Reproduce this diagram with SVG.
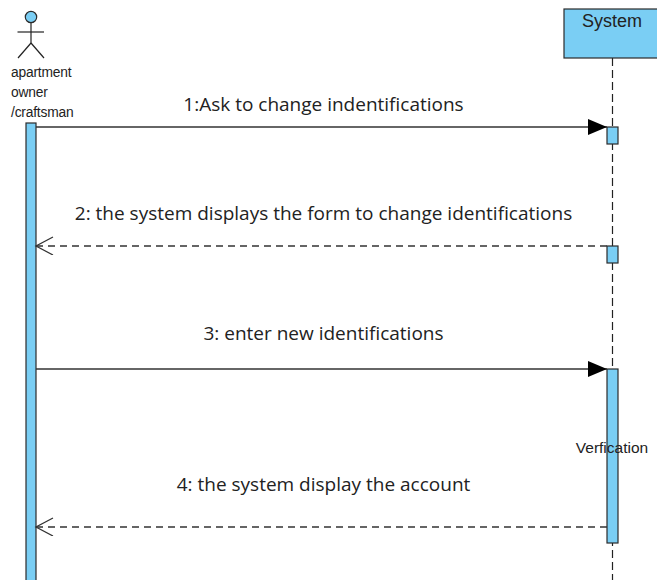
<svg xmlns="http://www.w3.org/2000/svg" width="657" height="580" viewBox="0 0 657 580">
<style>
.fill{fill:#7acef4;stroke:#2b2b2b;stroke-width:1.2}
.life{stroke:#222;stroke-width:1.2;stroke-dasharray:8 4;fill:none}
.msg{stroke:#333;stroke-width:1.3;fill:none}
.ret{stroke:#333;stroke-width:1.3;fill:none;stroke-dasharray:7 5}
.lbl{font-family:"Open Sans","Noto Sans",sans-serif;font-size:19px;fill:#222;text-anchor:middle}
.act{font-family:"Liberation Sans",Arial,sans-serif;font-size:13.8px;fill:#222;letter-spacing:-0.2px}
</style>
<defs>
<marker id="filled" markerWidth="20" markerHeight="16" refX="19" refY="8" orient="auto" markerUnits="userSpaceOnUse">
<path d="M0,0 L19,8 L0,16 Z" fill="#000"/>
</marker>
<marker id="open" markerWidth="20" markerHeight="20" refX="18" refY="9" orient="auto" markerUnits="userSpaceOnUse">
<path d="M1,0 L18,9 L1,18" fill="none" stroke="#333" stroke-width="1.3"/>
</marker>
</defs>
<g id="actor">
<circle cx="31" cy="17" r="5.7" class="fill"/>
<line x1="31" y1="22.7" x2="31" y2="43" stroke="#222" stroke-width="1.2"/>
<line x1="17.5" y1="32" x2="44" y2="32" stroke="#222" stroke-width="1.2"/>
<line x1="31" y1="43" x2="18" y2="58" stroke="#222" stroke-width="1.2"/>
<line x1="31" y1="43" x2="44" y2="58" stroke="#222" stroke-width="1.2"/>
<text class="act" x="11" y="77">apartment</text>
<text class="act" x="11" y="97">owner</text>
<text class="act" x="11" y="117">/craftsman</text>
<rect x="26" y="123" width="10" height="470" class="fill"/>
</g>
<g id="system">
<line x1="612.5" y1="58" x2="612.5" y2="580" class="life"/>
<rect x="564" y="9" width="100" height="49" class="fill"/>
<text x="612" y="26.5" font-family="Liberation Sans,Arial,sans-serif" font-size="18px" fill="#222" text-anchor="middle">System</text>
<rect x="607" y="127" width="11" height="17" class="fill"/>
<rect x="607" y="246" width="11" height="17" class="fill"/>
<rect x="607" y="369" width="11" height="174" class="fill"/>
<text x="612" y="453" font-family="Liberation Sans,Arial,sans-serif" font-size="15.5px" fill="#222" text-anchor="middle">Verfication</text>
</g>
<g id="connectors">
<line x1="36" y1="127" x2="607" y2="127" class="msg" marker-end="url(#filled)"/>
<line x1="607" y1="246" x2="36" y2="246" class="ret" marker-end="url(#open)"/>
<line x1="36" y1="369" x2="607" y2="369" class="msg" marker-end="url(#filled)"/>
<line x1="607" y1="527" x2="36" y2="527" class="ret" marker-end="url(#open)"/>
</g>
<g id="labels">
<text class="lbl" x="323.5" y="111">1:Ask to change indentifications</text>
<text class="lbl" x="323.5" y="220">2: the system displays the form to change identifications</text>
<text class="lbl" x="323.5" y="340">3: enter new identifications</text>
<text class="lbl" x="323.5" y="491">4: the system display the account</text>
</g>
</svg>
